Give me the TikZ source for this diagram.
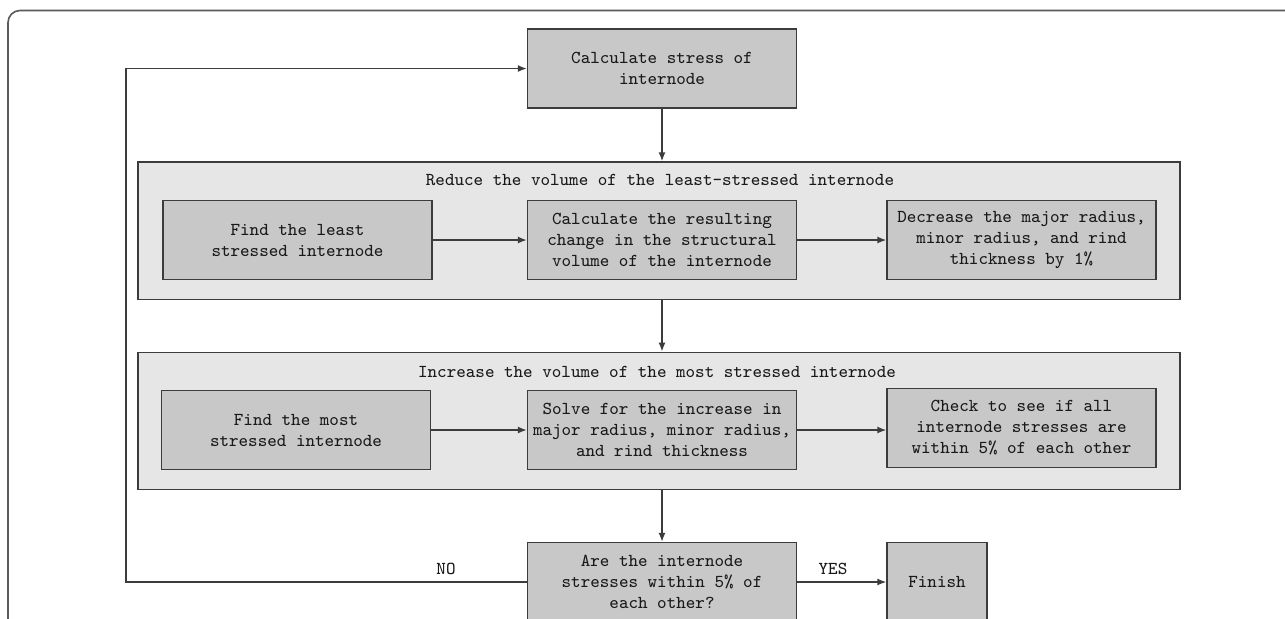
\documentclass[tikz,border=0pt]{standalone}
\usepackage{fontspec}
\usetikzlibrary{arrows.meta}
\definecolor{boxfill}{RGB}{200,200,200}
\definecolor{grpfill}{RGB}{230,230,230}
\definecolor{linec}{RGB}{60,60,60}
\definecolor{framec}{RGB}{90,90,90}
\begin{document}
\begin{tikzpicture}[x=0.5pt,y=-0.5pt,
  txt/.style={font=\ttfamily\fontsize{9.1}{10.5}\selectfont, text=black!90},
  stepbox/.style={txt, draw=linec, fill=boxfill, line width=0.7pt, minimum width=134.5pt, minimum height=39.5pt, align=center, inner sep=0pt},
  grp/.style={draw=linec, fill=grpfill, line width=0.7pt, minimum width=521pt, minimum height=68.75pt, inner sep=0pt},
  conn/.style={draw=linec, line width=0.7pt, -{Latex[length=4.5pt,width=3.5pt]}},
  lbl/.style={txt, inner sep=1pt}]
\useasboundingbox (0,0) rectangle (1285,618);
\clip (0,0) rectangle (1285,618);
\fill[white] (0,0) rectangle (1285,618);
\draw[framec, line width=0.8pt, rounded corners=6pt] (8,10.5) rectangle (1320,660);

\node[grp] (g1) at (659,230.75) {};
\node[grp] (g2) at (659,421) {};
\node[txt] (t1) at (660,180) {Reduce the volume of the least-stressed internode};
\node[txt] (t2) at (657,372) {Increase the volume of the most stressed internode};

\node[stepbox] (calc) at (662,68.5) {Calculate stress of\\internode};

\node[stepbox] (a1) at (297.5,240) {Find the least\\stressed internode};
\node[stepbox] (b1) at (662,240) {Calculate the resulting\\change in the structural\\volume of the internode};
\node[stepbox] (c1) at (1021.5,240) {Decrease the major radius,\\minor radius, and rind\\thickness by 1\%};

\node[stepbox] (a2) at (296,430) {Find the most\\stressed internode};
\node[stepbox] (b2) at (662,430) {Solve for the increase in\\major radius, minor radius,\\and rind thickness};
\node[stepbox] (c2) at (1021.5,428) {Check to see if all\\internode stresses are\\within 5\% of each other};

\node[stepbox] (dec) at (662,582) {Are the internode\\stresses within 5\% of\\each other?};
\node[stepbox, minimum width=50pt] (fin) at (937,582) {Finish};

\coordinate (lb) at (126,582);
\coordinate (lt) at (126,68.5);

\draw[conn] (calc.south) -- (calc.south |- g1.north);
\draw[conn] (calc.south |- g1.south) -- (calc.south |- g2.north);
\draw[conn] (calc.south |- g2.south) -- (dec.north);
\draw[conn] (a1.east) -- (b1.west);
\draw[conn] (b1.east) -- (c1.west |- b1.east);
\draw[conn] (a2.east) -- (b2.west);
\draw[conn] (b2.east) -- (c2.west |- b2.east);
\draw[conn] (dec.east) -- (fin.west);
\draw[conn] (dec.west) -- (lb) -- (lt) -- (calc.west);

\node[lbl] (no) at (446,569) {NO};
\node[lbl] (yes) at (833,569) {YES};
\end{tikzpicture}
\end{document}
